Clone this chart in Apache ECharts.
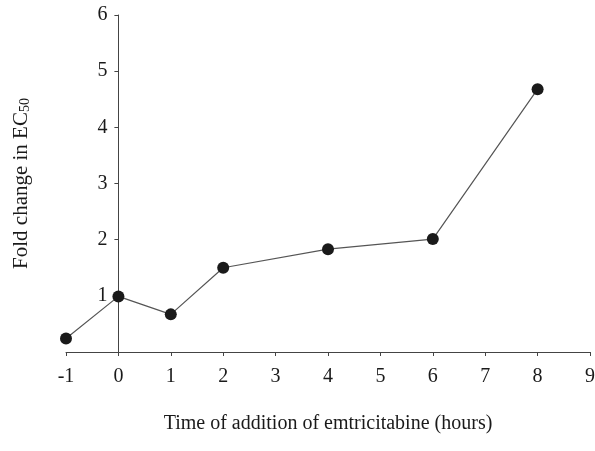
<!DOCTYPE html>
<html>
<head>
<meta charset="utf-8">
<script src="https://cdn.jsdelivr.net/npm/echarts@6/dist/echarts.min.js"></script>
<style>
  html, body { margin: 0; padding: 0; background: #fff; }
  #chart { width: 595px; height: 451px; }
</style>
</head>
<body>
<div id="chart"></div>
<script>
// Time of addition (hours) and the resulting fold change in EC50
const hours = [-1, 0, 1, 2, 4, 6, 8];
const foldChange = [0.24, 0.99, 0.67, 1.50, 1.83, 2.01, 4.68];

// Axis ranges and tick values
const xTicks = [-1, 0, 1, 2, 3, 4, 5, 6, 7, 8, 9];
const yTicks = [0, 1, 2, 3, 4, 5, 6];

const FONT = '"Liberation Serif", "Times New Roman", serif';
const INK = '#1a1a1a';

const GRID = { left: 66, right: 5, top: 15, bottom: 99 };
const W = 595, H = 451;

// The y axis sits at x = 0: shift it right by one x-unit from the grid's left edge
const plotWidth = W - GRID.left - GRID.right;
const xUnit = plotWidth / (xTicks[xTicks.length - 1] - xTicks[0]);
const yAxisShift = (0 - xTicks[0]) * xUnit;

const chart = echarts.init(document.getElementById('chart'), null, { renderer: 'canvas' });

chart.setOption({
  backgroundColor: '#ffffff',
  animation: false,
  grid: Object.assign({ containLabel: false, outerBoundsMode: 'none' }, GRID),
  xAxis: {
    type: 'value',
    min: xTicks[0],
    max: xTicks[xTicks.length - 1],
    interval: 1,
    name: 'Time of addition of emtricitabine (hours)',
    nameLocation: 'middle',
    nameGap: 62,
    nameTextStyle: { fontFamily: FONT, fontSize: 20, color: INK },
    axisLine: { onZero: false, lineStyle: { color: '#444', width: 1 } },
    axisTick: { show: true, inside: false, length: 4, lineStyle: { color: '#444' } },
    axisLabel: { fontFamily: FONT, fontSize: 20, color: INK, margin: 15 },
    splitLine: { show: false }
  },
  yAxis: {
    type: 'value',
    position: 'left',
    offset: -yAxisShift,
    min: yTicks[0],
    max: yTicks[yTicks.length - 1],
    interval: 1,
    name: '{m|Fold change in EC}{s|50}',
    nameLocation: 'middle',
    nameGap: 86,
    nameRotate: 90,
    nameTextStyle: {
      fontFamily: FONT, fontSize: 21, color: INK,
      rich: {
        m: { fontFamily: FONT, fontSize: 21, color: INK },
        s: { fontFamily: FONT, fontSize: 14, color: INK, verticalAlign: 'bottom', padding: [6, 0, 0, 0] }
      }
    },
    axisLine: { show: true, onZero: false, lineStyle: { color: '#444', width: 1 } },
    axisTick: { show: true, inside: false, length: 4, lineStyle: { color: '#444' } },
    axisLabel: {
      fontFamily: FONT, fontSize: 20, color: INK, margin: 11,
      formatter: v => (v === 0 ? '' : String(v))
    },
    splitLine: { show: false }
  },
  series: [{
    type: 'line',
    data: hours.map((h, i) => [h, foldChange[i]]),
    symbol: 'circle',
    symbolSize: 12,
    lineStyle: { color: '#555', width: 1.2 },
    itemStyle: { color: INK, borderWidth: 0 },
    z: 3
  }]
});
</script>
</body>
</html>
